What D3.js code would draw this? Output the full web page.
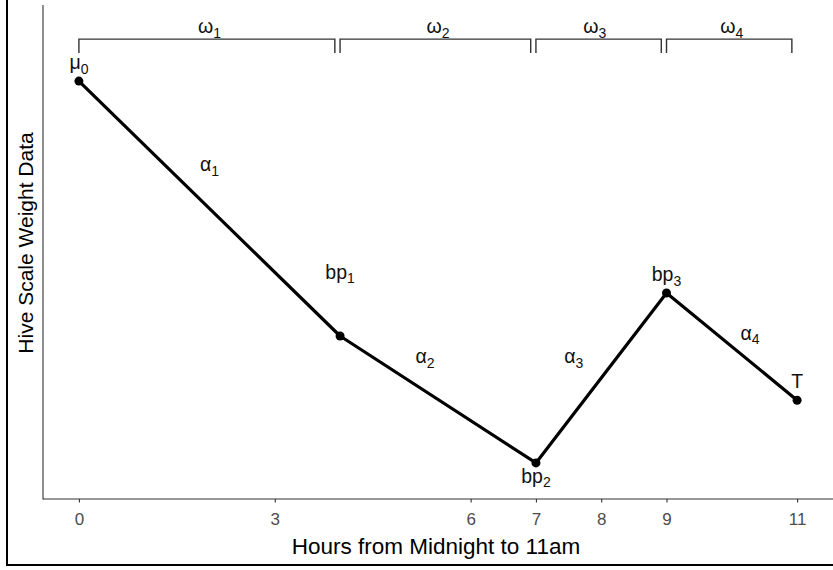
<!DOCTYPE html>
<html><head><meta charset="utf-8">
<script src="https://cdn.jsdelivr.net/npm/d3@7"></script>
<style>body{margin:0;background:#fff}svg{display:block}</style>
</head><body>
<script>
// Breakpoint data (hours, weight)
const hours = [0, 4, 7, 9, 11];
const weights = [84.6, 33.0, 7.3, 41.7, 20.0];
const pointLabels = ["μ|0", "bp|1", "bp|2", "bp|3", "T|"];
const pointLabelDy = [-12, -57, 20, -12, -12];
// Slope labels (alpha) positioned in data coords
const alphaLabels = ["α|1", "α|2", "α|3", "α|4"];
const alphaX = [2.0, 5.3, 7.58, 10.28];
const alphaY = [66.3, 27.5, 27.5, 32.2];
// Brace segments (omega)
const braceStart = [0, 4, 7, 9];
const braceEnd = [3.92, 6.92, 8.92, 10.92];
const braceLabels = ["ω|1", "ω|2", "ω|3", "ω|4"];
const omegaX = [2.0, 5.5, 7.9, 10.0];
const omegaY = 94.3;
const braceY = 93.1, braceBottom = 90.3;
const xTicks = [0, 3, 6, 7, 8, 9, 11];

const W = 833, H = 570;
const svg = d3.select("body").append("svg").attr("width", W).attr("height", H);
const font = "'Liberation Sans', Arial, sans-serif";

const x = d3.scaleLinear().domain([-0.55, 11.55]).range([43, 833]);
const y = d3.scaleLinear().domain([0, 100]).range([499, 5]);

// outer border (left + bottom visible)
svg.append("line").attr("x1", 7).attr("x2", 7).attr("y1", 0).attr("y2", 565).attr("stroke", "#000").attr("stroke-width", 2);
svg.append("line").attr("x1", 6).attr("x2", 833).attr("y1", 565).attr("y2", 565).attr("stroke", "#000").attr("stroke-width", 2);

// axes
const xAxis = d3.axisBottom(x).tickValues(xTicks).tickSize(3.5).tickSizeOuter(0);
const gx = svg.append("g").attr("transform", "translate(0,499)").call(xAxis);
gx.select(".domain").attr("stroke", "#333").attr("stroke-width", 1.1).attr("d", "M43,0H833");
gx.selectAll(".tick line").attr("stroke", "#333").attr("stroke-width", 1.1);
gx.selectAll(".tick text").attr("fill", "#4d4d4d").attr("y", 26).attr("dy", 0)
  .style("font-family", font).style("font-size", "17px");

svg.append("line").attr("x1", 43).attr("x2", 43).attr("y1", 5).attr("y2", 499.5).attr("stroke", "#333").attr("stroke-width", 1.1);

svg.append("text").attr("x", 436).attr("y", 554).attr("text-anchor", "middle")
  .style("font-family", font).style("font-size", "22.5px").attr("fill", "#000")
  .text("Hours from Midnight to 11am");
svg.append("text").attr("transform", "translate(33,243) rotate(-90)").attr("text-anchor", "middle")
  .style("font-family", font).style("font-size", "21px").attr("fill", "#000")
  .text("Hive Scale Weight Data");

// helper for subscripted labels
function subLabel(g, px, py, lab) {
  const [main, sub] = lab.split("|");
  const t = g.append("text").attr("x", px).attr("y", py).attr("text-anchor", "middle")
    .style("font-family", font).style("font-size", "19.5px").attr("fill", "#111");
  t.append("tspan").text(main);
  if (sub) t.append("tspan").attr("dy", 4.5).style("font-size", "14px").text(sub);
  return t;
}

// braces
const gb = svg.append("g");
braceStart.forEach((s, i) => {
  const e = braceEnd[i];
  gb.append("path")
    .attr("d", `M${x(s)},${y(braceBottom)}V${y(braceY)}H${x(e)}V${y(braceBottom)}`)
    .attr("fill", "none").attr("stroke", "#333").attr("stroke-width", 1.4);
  subLabel(gb, x(omegaX[i]), y(omegaY), braceLabels[i]);
});

// line
const data = hours.map((h, i) => ({h, w: weights[i]}));
svg.append("path").datum(data)
  .attr("d", d3.line().x(d => x(d.h)).y(d => y(d.w)))
  .attr("fill", "none").attr("stroke", "#000").attr("stroke-width", 3.2).attr("stroke-linejoin", "round");
svg.selectAll("circle.pt").data(data).join("circle")
  .attr("cx", d => x(d.h)).attr("cy", d => y(d.w)).attr("r", 4.5).attr("fill", "#000");

// point labels
data.forEach((d, i) => {
  subLabel(svg, x(d.h), y(d.w) + pointLabelDy[i], pointLabels[i]);
});

// alpha labels
alphaLabels.forEach((lab, i) => {
  subLabel(svg, x(alphaX[i]), y(alphaY[i]), lab);
});
</script>
</body></html>
